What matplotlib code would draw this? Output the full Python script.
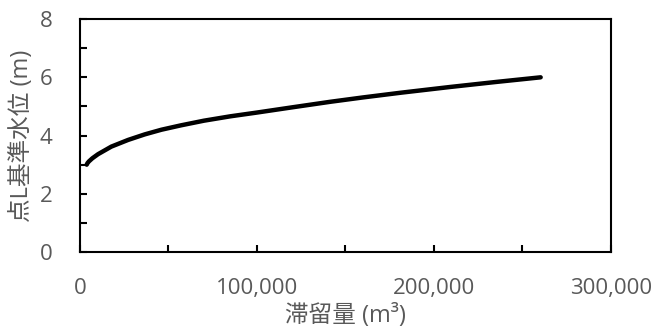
import matplotlib
matplotlib.use('Agg')
import matplotlib.pyplot as plt
from matplotlib.ticker import MultipleLocator, FuncFormatter

# 滞留量 (m3) と 点L基準水位 (m) -- 図から読み取った値
volume = [3800, 4200, 5000, 7000, 10200, 17700, 27200, 36600, 46000, 57000,
          70000, 84900, 100000, 120000, 141500, 160000, 181100, 209400, 235000, 260300]
level = [3.0, 3.05, 3.11, 3.22, 3.36, 3.62, 3.85, 4.04, 4.2, 4.35,
         4.51, 4.66, 4.79, 4.97, 5.16, 5.31, 5.47, 5.67, 5.84, 6.0]

grey = '#595959'
fonts = ['Open Sans', 'Noto Sans CJK JP', 'DejaVu Sans']
plt.rcParams['font.family'] = fonts

fig = plt.figure(figsize=(6.52, 3.29), dpi=100)
ax = fig.add_axes([0.1227, 0.234, 0.8143, 0.708])

ax.plot(volume, level, color='black', linewidth=3.2, solid_capstyle='round',
        solid_joinstyle='round')

ax.set_xlim(0, 300000)
ax.set_ylim(0, 8)
ax.xaxis.set_major_locator(MultipleLocator(100000))
ax.xaxis.set_minor_locator(MultipleLocator(50000))
ax.yaxis.set_major_locator(MultipleLocator(2))
ax.yaxis.set_minor_locator(MultipleLocator(1))
ax.xaxis.set_major_formatter(FuncFormatter(lambda v, p: f'{int(v):,}'))

for s in ax.spines.values():
    s.set_linewidth(1.5)
    s.set_color('black')

ax.tick_params(which='both', direction='in', length=5, width=1.5, color='black',
               top=False, right=False)
ax.tick_params(axis='x', which='major', pad=19, labelsize=16, labelcolor=grey)
ax.tick_params(axis='y', which='major', pad=20, labelsize=16, labelcolor=grey)

ax.set_xlabel('滞留量 (m³)', fontsize=17, color=grey, labelpad=3)
ax.set_ylabel('点L基準水位 (m)', fontsize=17, color=grey, labelpad=4)

fig.savefig('out.png', dpi=100)
